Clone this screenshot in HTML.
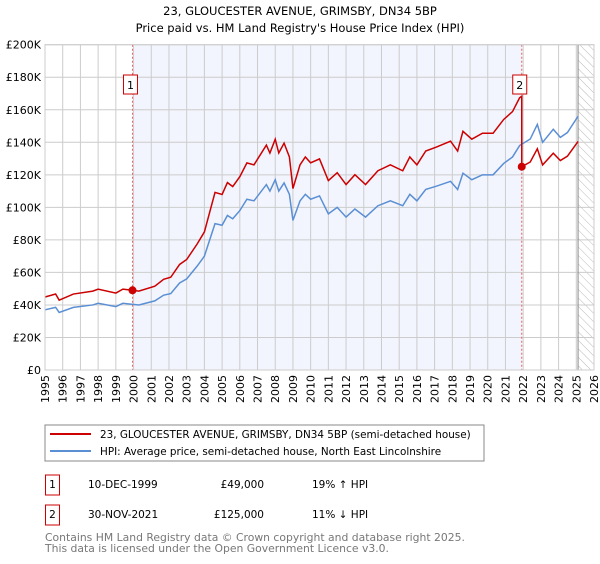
<!DOCTYPE html>
<html><head><meta charset="utf-8"><style>
body{margin:0;background:#fff;font-family:"DejaVu Sans","Liberation Sans",sans-serif;}
svg text{font-family:"DejaVu Sans","Liberation Sans",sans-serif;}
</style></head><body>
<svg id="c" width="600" height="560" xmlns="http://www.w3.org/2000/svg">
<defs><pattern id="hatch" width="6" height="6" patternUnits="userSpaceOnUse" patternTransform="rotate(-45)"><line x1="0" y1="0" x2="0" y2="6" stroke="#bbb" stroke-width="1"/></pattern></defs>
<text x="300" y="15" text-anchor="middle" font-size="11.5">23, GLOUCESTER AVENUE, GRIMSBY, DN34 5BP</text>
<text x="300" y="32" text-anchor="middle" font-size="11.5">Price paid vs. HM Land Registry's House Price Index (HPI)</text>
<g id="plot"></g>
<rect x="45" y="425" width="439" height="36" fill="#fff" stroke="#888"/>
<line x1="50" y1="434" x2="91" y2="434" stroke="#cc0000" stroke-width="2"/>
<text x="100" y="438" font-size="10.4">23, GLOUCESTER AVENUE, GRIMSBY, DN34 5BP (semi-detached house)</text>
<line x1="50" y1="451" x2="91" y2="451" stroke="#5b8fd4" stroke-width="2"/>
<text x="100" y="455" font-size="10.4">HPI: Average price, semi-detached house, North East Lincolnshire</text>
<rect x="45.5" y="475" width="14" height="20" fill="#fff" stroke="#cc0000"/>
<text x="52.5" y="488" text-anchor="middle" font-size="10.5">1</text>
<text x="88" y="488" font-size="10.5">10-DEC-1999</text>
<text x="264" y="488" text-anchor="end" font-size="10.5">£49,000</text>
<text x="312" y="488" font-size="10.5">19% ↑ HPI</text>
<rect x="45.5" y="505" width="14" height="20" fill="#fff" stroke="#cc0000"/>
<text x="52.5" y="518" text-anchor="middle" font-size="10.5">2</text>
<text x="88" y="518" font-size="10.5">30-NOV-2021</text>
<text x="264" y="518" text-anchor="end" font-size="10.5">£125,000</text>
<text x="312" y="518" font-size="10.5">11% ↓ HPI</text>
<text x="45" y="541" font-size="10.8" fill="#777">Contains HM Land Registry data © Crown copyright and database right 2025.</text>
<text x="45" y="552" font-size="10.8" fill="#777">This data is licensed under the Open Government Licence v3.0.</text>
</svg>
<script>
const hpiYears=[1995.0,1995.6,1995.8,1996.6,1997.7,1998.0,1999.0,1999.4,2000.3,2001.2,2001.7,2002.1,2002.6,2003.0,2003.6,2004.0,2004.3,2004.6,2005.0,2005.3,2005.6,2006.0,2006.4,2006.8,2007.5,2007.7,2008.0,2008.2,2008.5,2008.8,2009.0,2009.4,2009.7,2010.0,2010.5,2011.0,2011.5,2012.0,2012.5,2013.1,2013.8,2014.5,2015.2,2015.6,2016.0,2016.5,2017.1,2017.9,2018.3,2018.6,2019.1,2019.7,2020.3,2020.9,2021.4,2021.8,2022.4,2022.8,2023.1,2023.7,2024.1,2024.5,2025.1];
const hpiValues=[37000,38500,35400,38500,40000,41000,39000,41000,40000,42500,46000,47000,53500,56000,64000,70000,80000,90000,89000,95000,93000,98000,105000,104000,114000,110000,117000,110000,115000,108000,92000,104000,108000,105000,107000,96000,100000,94000,99000,94000,101000,104000,101000,108000,104000,111000,113000,116000,111000,121000,117000,120000,120000,127000,131000,138000,142000,151000,140000,148000,143000,146000,156000];
const saleYears=[1999.94,2021.92];
const salePrices=[49000,125000];
const saleLabels=["1","2"];
const yTicks=[0,20000,40000,60000,80000,100000,120000,140000,160000,180000,200000];
const xTicks=[1995,1996,1997,1998,1999,2000,2001,2002,2003,2004,2005,2006,2007,2008,2009,2010,2011,2012,2013,2014,2015,2016,2017,2018,2019,2020,2021,2022,2023,2024,2025,2026];
const NS="http://www.w3.org/2000/svg";
const L=45,R=594,T=44.7,B=370;
function X(y){return L+(y-1995)/(2026-1995)*(R-L);}
function Y(v){return B-v/200000*(B-T);}
const g=document.getElementById('plot');
function mk(t,a,name){const e=document.createElementNS(NS,t);for(const k in a)e.setAttribute(k,a[k]);


g.appendChild(e);return e;}
function hpiAt(y){for(let i=1;i<hpiYears.length;i++){if(y<=hpiYears[i]){const f=(y-hpiYears[i-1])/(hpiYears[i]-hpiYears[i-1]);return hpiValues[i-1]+f*(hpiValues[i]-hpiValues[i-1]);}}return hpiValues[hpiValues.length-1];}
mk('rect',{x:X(saleYears[0]),y:T,width:X(saleYears[1])-X(saleYears[0]),height:B-T,fill:'#f2f5fd'},'ownership-shading');
mk('rect',{x:X(2025.1),y:T,width:R-X(2025.1),height:B-T,fill:'url(#hatch)'},'forecast-hatch');
xTicks.forEach(t=>{mk('line',{x1:X(t),x2:X(t),y1:T,y2:B,stroke:'#ccc'},'x-gridline');
const tx=mk('text',{x:0,y:0,'font-size':11,'text-anchor':'end',transform:`translate(${X(t)+4},${B+5}) rotate(-90)`},'x-tick-label');tx.textContent=t;});
yTicks.forEach(t=>{mk('line',{x1:L,x2:R,y1:Y(t),y2:Y(t),stroke:'#ccc'},'y-gridline');
const tx=mk('text',{x:L-4,y:Y(t)+4,'font-size':11,'text-anchor':'end'},'y-tick-label');tx.textContent='£'+(t===0?'0':(t/1000)+'K');});
mk('line',{x1:X(2025.1),x2:X(2025.1),y1:T,y2:B,stroke:'#888'},'latest-data-line');
saleYears.forEach((s,i)=>mk('line',{x1:X(s),x2:X(s),y1:T,y2:B,stroke:'#f06060','stroke-dasharray':'2,2'},'sale-vline'));
mk('polyline',{points:hpiYears.map((y,i)=>X(y)+','+Y(hpiValues[i])).join(' '),fill:'none',stroke:'#5b8fd4','stroke-width':1.5},'hpi-line');
const f1=salePrices[0]/hpiAt(saleYears[0]),f2=salePrices[1]/hpiAt(saleYears[1]);
let pts=[];
hpiYears.forEach((y,i)=>{if(y<saleYears[1])pts.push([y,hpiValues[i]*f1]);});
pts.push([saleYears[1],hpiAt(saleYears[1])*f1]);
pts.push([saleYears[1],salePrices[1]]);
hpiYears.forEach((y,i)=>{if(y>saleYears[1])pts.push([y,hpiValues[i]*f2]);});
mk('polyline',{points:pts.map(p=>X(p[0])+','+Y(p[1])).join(' '),fill:'none',stroke:'#cc0000','stroke-width':1.5},'property-price-line');
saleYears.forEach((s,i)=>{mk('circle',{cx:X(s),cy:Y(salePrices[i]),r:4,fill:'#cc0000'},'sale-point');
mk('rect',{x:X(s)-9,y:75,width:14,height:19,fill:'#fff',stroke:'#cc0000'},'sale-marker-box');
const t=mk('text',{x:X(s)-2,y:89,'font-size':11,'text-anchor':'middle'},'sale-marker-label');t.textContent=saleLabels[i];});
mk('rect',{x:L,y:T,width:R-L,height:B-T,fill:'none',stroke:'#ccc'},'plot-border');
</script>
</body></html>
